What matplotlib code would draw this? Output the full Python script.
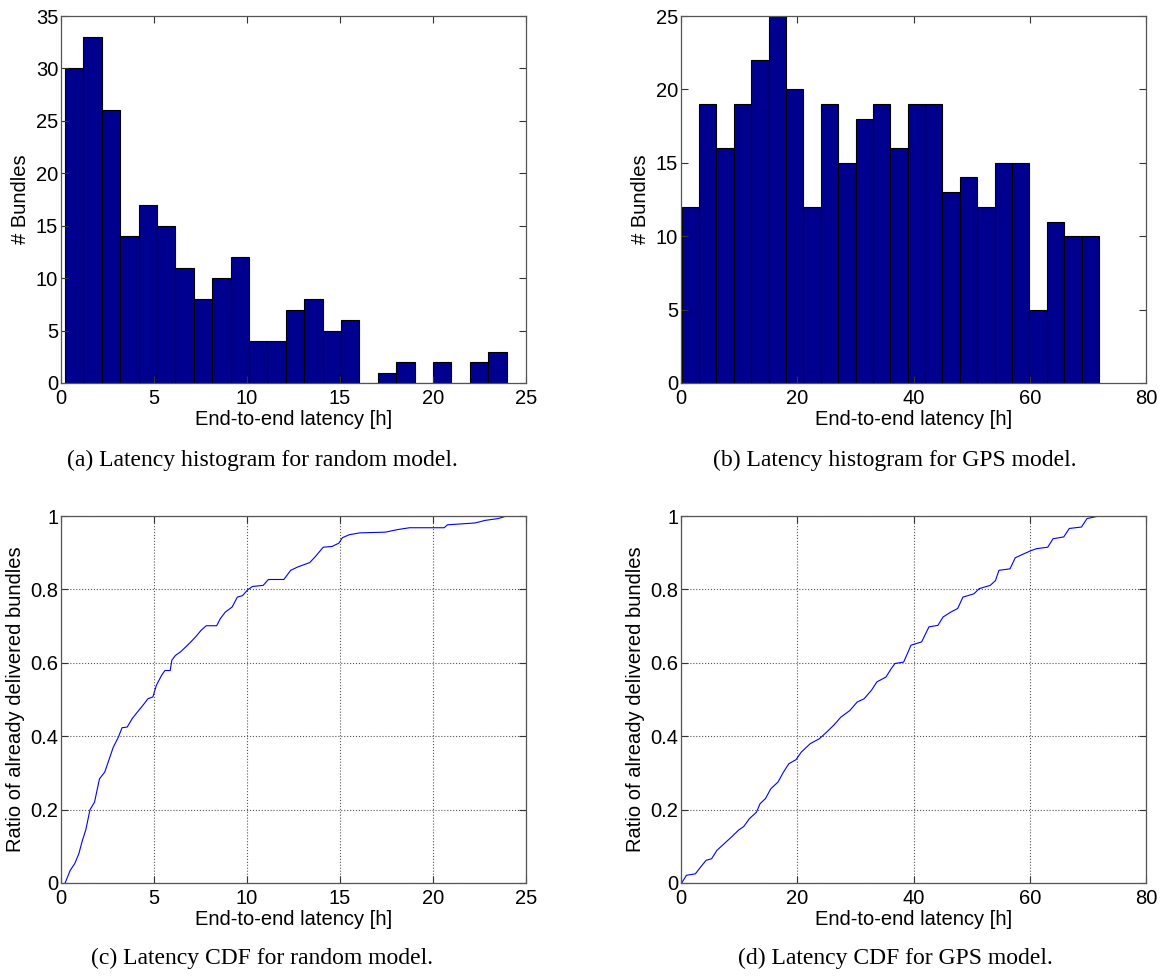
import numpy as np
import matplotlib
matplotlib.use("Agg")
import matplotlib.pyplot as plt

# histogram counts (24 bins each) and bin ranges
random_counts = [30, 33, 26, 14, 17, 15, 11, 8, 10, 12, 4, 4, 7, 8, 5, 6, 0, 1, 2, 0, 2, 0, 2, 3]
random_range = (0.22, 23.96)
gps_counts = [12, 19, 16, 19, 22, 25, 20, 12, 19, 15, 18, 19, 16, 19, 19, 13, 14, 12, 15, 15, 5, 11, 10, 10]
gps_range = (0.12, 71.9)

# CDF points
random_cdf_x = [0.22, 0.5, 0.74, 0.96, 1.15, 1.33, 1.56, 1.8, 2.07, 2.35, 2.54, 2.81, 3.09, 3.28, 3.56,
                3.83, 4.11, 4.48, 4.67, 4.94, 5.13, 5.41, 5.59, 5.87, 5.96, 6.15, 6.43, 6.7, 6.98, 7.26,
                7.54, 7.81, 8.37, 8.56, 8.83, 9.2, 9.48, 9.76, 10.04, 10.3, 10.87, 11.15, 11.98, 12.35,
                12.72, 13.37, 13.65, 14.1, 14.57, 14.94, 15.13, 15.5, 16.06, 17.44, 18.1, 18.74, 20.6,
                20.78, 22.26, 22.8, 23.5, 23.96]
random_cdf_y = [0.0, 0.035, 0.053, 0.08, 0.116, 0.144, 0.2, 0.22, 0.284, 0.302, 0.33, 0.37, 0.398, 0.423,
                0.425, 0.448, 0.466, 0.489, 0.502, 0.507, 0.539, 0.566, 0.579, 0.579, 0.607, 0.62, 0.63,
                0.643, 0.657, 0.672, 0.689, 0.701, 0.701, 0.72, 0.738, 0.752, 0.779, 0.783, 0.799, 0.808,
                0.811, 0.827, 0.827, 0.852, 0.861, 0.873, 0.888, 0.915, 0.917, 0.926, 0.941, 0.949, 0.954,
                0.956, 0.963, 0.968, 0.968, 0.976, 0.981, 0.988, 0.993, 1.0]

gps_cdf_x = [0.12, 0.93, 2.47, 3.4, 4.33, 5.26, 6.18, 7.42, 8.66, 9.9, 10.8, 11.75, 12.98, 13.6, 14.53,
             15.46, 16.69, 17.62, 18.55, 19.78, 20.71, 22.26, 23.8, 25.04, 26.28, 27.5, 29.05, 30.3,
             31.5, 32.76, 33.7, 35.25, 36.17, 36.8, 38.3, 38.95, 39.57, 41.4, 42.66, 44.2, 45.1, 46.4,
             47.6, 48.5, 50.4, 51.3, 53.2, 54.1, 54.7, 56.6, 57.5, 58.7, 60.28, 61.2, 63.1, 64.0,
             65.85, 66.8, 68.9, 69.85, 71.9]
gps_cdf_y = [0.0, 0.021, 0.025, 0.044, 0.062, 0.066, 0.089, 0.107, 0.125, 0.144, 0.154, 0.175, 0.193,
             0.216, 0.23, 0.257, 0.275, 0.302, 0.325, 0.336, 0.357, 0.38, 0.393, 0.411, 0.43, 0.452, 0.47,
             0.493, 0.502, 0.525, 0.548, 0.561, 0.584, 0.598, 0.602, 0.625, 0.648, 0.657, 0.698, 0.702,
             0.725, 0.738, 0.748, 0.779, 0.788, 0.802, 0.811, 0.824, 0.852, 0.856, 0.886, 0.895, 0.906,
             0.911, 0.915, 0.938, 0.943, 0.966, 0.97, 0.993, 1.0]

captions = ["(a) Latency histogram for random model.", "(b) Latency histogram for GPS model.",
            "(c) Latency CDF for random model.", "(d) Latency CDF for GPS model."]

plt.rcParams["font.family"] = ["Liberation Sans", "DejaVu Sans"]
plt.rcParams["font.size"] = 14.5

W, H = 1162, 976
fig = plt.figure(figsize=(W / 100, H / 100), dpi=100)


def make_axes(left, right, top, bottom):
    return fig.add_axes([left / W, 1 - bottom / H, (right - left) / W, (bottom - top) / H])


def style(ax):
    ax.tick_params(direction="in", top=True, right=True, length=5, width=0.8, colors="#333333",
                   labelcolor="black", pad=2)
    ax.tick_params(axis="x", pad=4)
    for s in ax.spines.values():
        s.set_color("#555555")
        s.set_linewidth(0.9)
    ax.set_xlabel("End-to-end latency [h]", labelpad=2)


ax_a = make_axes(61, 526, 16, 383)
ax_b = make_axes(681, 1146, 16, 383)
ax_c = make_axes(61, 526, 516, 883)
ax_d = make_axes(681, 1146, 516, 883)

for ax, counts, rng, xmax, ymax in [(ax_a, random_counts, random_range, 25, 35),
                                     (ax_b, gps_counts, gps_range, 80, 25)]:
    edges = np.linspace(rng[0], rng[1], len(counts) + 1)
    ax.bar(edges[:-1], counts, width=np.diff(edges), align="edge", color="#00008F",
           edgecolor="black", linewidth=0.8)
    ax.set_xlim(0, xmax)
    ax.set_ylim(0, ymax)
    ax.set_ylabel("# Bundles", labelpad=4)
    style(ax)

ax_a.set_xticks([0, 5, 10, 15, 20, 25])
ax_a.set_yticks(range(0, 36, 5))
ax_b.set_xticks([0, 20, 40, 60, 80])
ax_b.set_yticks(range(0, 26, 5))

for ax, xs, ys, xmax, ticks in [(ax_c, random_cdf_x, random_cdf_y, 25, [0, 5, 10, 15, 20, 25]),
                                (ax_d, gps_cdf_x, gps_cdf_y, 80, [0, 20, 40, 60, 80])]:
    ax.plot(xs, ys, color="#0000FF", linewidth=0.8)
    ax.set_xlim(0, xmax)
    ax.set_ylim(0, 1)
    ax.set_xticks(ticks)
    ax.set_yticks([0, 0.2, 0.4, 0.6, 0.8, 1])
    ax.set_yticklabels(["0", "0.2", "0.4", "0.6", "0.8", "1"])
    ax.grid(True, linestyle=":", color="#555555", linewidth=0.8)
    ax.set_ylabel("Ratio of already delivered bundles", labelpad=4)
    style(ax)

for (cx, cy), text in zip([(262, 460), (895, 460), (262, 958), (895, 958)], captions):
    fig.text(cx / W, 1 - cy / H, text, ha="center", va="center", fontsize=17,
             family=["Liberation Serif", "DejaVu Serif"])

fig.savefig("out.png", dpi=100)
